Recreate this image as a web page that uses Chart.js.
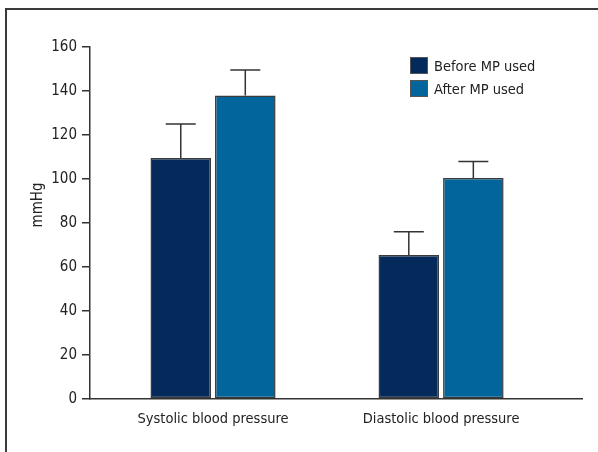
<!DOCTYPE html>
<html>
<head>
<meta charset="utf-8">
<script src="https://cdn.jsdelivr.net/npm/chart.js@4/dist/chart.umd.min.js"></script>
<style>
    body { margin: 0; background: #fff; }
    #wrap { position: relative; width: 598px; height: 452px; overflow: hidden; }
    #frame {
        position: absolute; left: 5px; top: 8px; width: 700px; height: 600px;
        border-left: 2px solid #3a3a3a; border-top: 2px solid #3a3a3a;
    }
    #legend {
        position: absolute; left: 410px; top: 54px;
        font-family: "DejaVu Sans Condensed", sans-serif;
        font-size: 14.5px; color: #222;
    }
    .item { display: flex; align-items: center; height: 23px; }
    .box { width: 16px; height: 15px; border: 1px solid #555; margin-right: 6px; }
    canvas { position: absolute; left: 0; top: 0; }
</style>
</head>
<body>
<div id="wrap">
    <div id="frame"></div>
    <canvas id="chart" width="598" height="452"></canvas>
    <div id="legend"></div>
</div>
<script>
const categories = ["Systolic blood pressure", "Diastolic blood pressure"];
const seriesNames = ["Before MP used", "After MP used"];
const beforeValues = [109.5, 65.5];
const beforeErrors = [15.5, 10.5];
const afterValues = [138, 100.5];
const afterErrors = [11.5, 7.5];
const yTicks = [0, 20, 40, 60, 80, 100, 120, 140, 160];

const colors = ["#032a5a", "#02669c"];
const FONT = "'DejaVu Sans Condensed', sans-serif";

// legend
const legend = document.getElementById("legend");
seriesNames.forEach((name, i) => {
    const item = document.createElement("div");
    item.className = "item";
    const box = document.createElement("div");
    box.className = "box";
    box.style.background = colors[i];
    const label = document.createElement("span");
    label.textContent = name;
    item.appendChild(box);
    item.appendChild(label);
    legend.appendChild(item);
});

// error bars + y title
const extras = {
    id: "extras",
    afterDatasetsDraw(chart) {
        const ctx = chart.ctx;
        const y = chart.scales.y;
        const errs = [beforeErrors, afterErrors];
        const vals = [beforeValues, afterValues];
        ctx.save();
        ctx.strokeStyle = "#333";
        ctx.lineWidth = 1.5;
        chart.data.datasets.forEach((ds, d) => {
            chart.getDatasetMeta(d).data.forEach((bar, i) => {
                const top = y.getPixelForValue(vals[d][i] + errs[d][i]);
                ctx.beginPath();
                ctx.moveTo(bar.x, bar.y);
                ctx.lineTo(bar.x, top);
                ctx.moveTo(bar.x - 15, top);
                ctx.lineTo(bar.x + 15, top);
                ctx.stroke();
            });
        });
        ctx.translate(38, 205);
        ctx.rotate(-Math.PI / 2);
        ctx.fillStyle = "#222";
        ctx.font = "15px " + FONT;
        ctx.textAlign = "center";
        ctx.textBaseline = "middle";
        ctx.fillText("mmHg", 0, 0);
        ctx.restore();
    }
};

new Chart(document.getElementById("chart"), {
    type: "bar",
    data: {
        datasets: [
            {
                label: seriesNames[0],
                data: beforeValues.map((v, i) => ({ x: i, y: v })),
                backgroundColor: colors[0]
            },
            {
                label: seriesNames[1],
                data: afterValues.map((v, i) => ({ x: i, y: v })),
                backgroundColor: colors[1]
            }
        ]
    },
    options: {
        responsive: false,
        animation: false,
        layout: { padding: { left: 0, top: 47, right: 16, bottom: 0 } },
        datasets: {
            bar: {
                categoryPercentage: 0.566,
                barPercentage: 0.938,
                borderColor: "#3a3a3a",
                borderWidth: 1.5,
                borderSkipped: false
            }
        },
        plugins: { legend: { display: false }, tooltip: { enabled: false } },
        scales: {
            x: {
                type: "linear",
                offset: false,
                min: -0.5395,
                max: 1.618,
                grid: { display: false, drawTicks: false, offset: false },
                border: { display: true, color: "#333", width: 1.5 },
                afterBuildTicks: s => { s.ticks = categories.map((c, i) => ({ value: i })); },
                afterFit: s => { s.height = 53; },
                ticks: {
                    padding: 12,
                    color: "#222",
                    font: { family: FONT, size: 14.5 },
                    callback: v => categories[v]
                }
            },
            y: {
                min: 0,
                max: 160,
                afterBuildTicks: s => { s.ticks = yTicks.map(v => ({ value: v })); },
                afterFit: s => { s.width = 90; },
                grid: { drawOnChartArea: false, tickLength: 8, color: "#333", lineWidth: 1.5 },
                border: { display: true, color: "#333", width: 1.5 },
                ticks: {
                    padding: 5,
                    color: "#222",
                    font: { family: FONT, size: 15 }
                }
            }
        }
    },
    plugins: [extras]
});
</script>
</body>
</html>
